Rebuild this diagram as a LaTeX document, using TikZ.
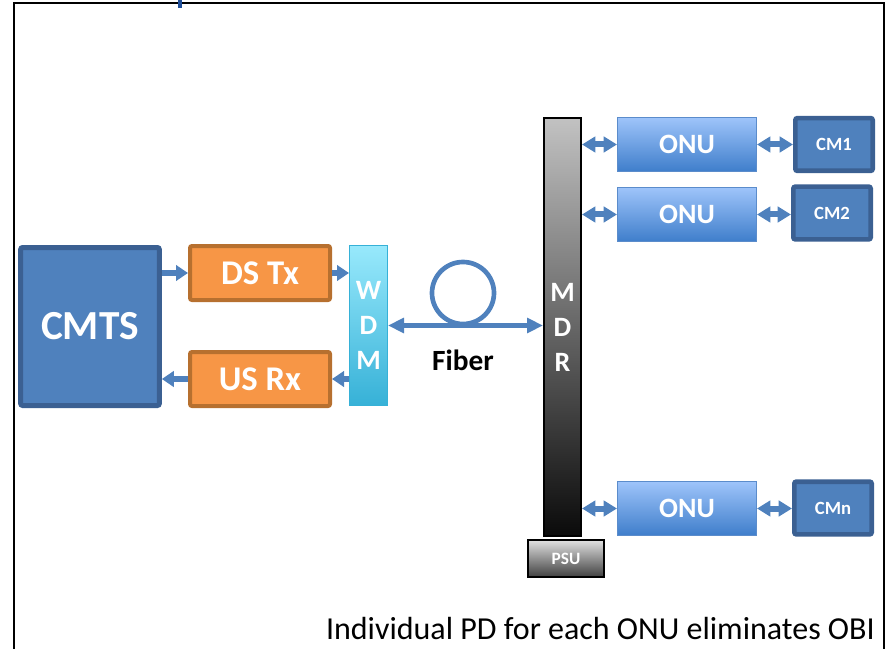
\documentclass[tikz,border=0pt]{standalone}
\usepackage{fontspec}
\setmainfont{Carlito}
\usepackage{xcolor}
\usetikzlibrary{arrows.meta}
\definecolor{cmblue}{HTML}{4F81BD}
\definecolor{cmedge}{HTML}{3B6092}
\definecolor{txorange}{HTML}{F79646}
\definecolor{txedge}{HTML}{B7702F}
\definecolor{wdmtop}{HTML}{98E9FC}
\definecolor{wdmbot}{HTML}{36B1D7}
\definecolor{onutop}{HTML}{9EC4FA}
\definecolor{onubot}{HTML}{3F7ECB}
\definecolor{onuedge}{HTML}{5B8CCB}
\definecolor{titleblue}{HTML}{1F4E99}

\begin{document}
\begin{tikzpicture}[x=0.75pt,y=-0.75pt,
    cmbox/.style={draw=cmedge,fill=cmblue,rounded corners=1.5pt,text=white,font=\bfseries},
    txbox/.style={draw=txedge,fill=txorange,line width=3pt,rounded corners=1.5pt,text=white,
      minimum width=105pt,minimum height=40.5pt,font=\fontsize{26}{30}\bfseries\selectfont},
    onubox/.style={draw=onuedge,line width=1pt,top color=onutop,bottom color=onubot,text=white,
      minimum width=104pt,minimum height=40.5pt,font=\fontsize{21}{25}\bfseries\selectfont},
    cmsmall/.style={cmbox,line width=3.5pt,minimum width=58pt,minimum height=39.5pt,
      font=\fontsize{14}{16}\bfseries\selectfont},
    link/.style={draw=cmblue,line width=4.5pt,-{Triangle[width=11.5pt,length=9pt]}},
    dlink/.style={draw=cmblue,line width=4.5pt,{Triangle[width=11.5pt,length=10pt]}-{Triangle[width=11.5pt,length=10pt]}}]
    \useasboundingbox (0,0) rectangle (889,649);

    % marco
    \draw[line width=1.2pt] (14,649) -- (14,3) -- (884,3) -- (884,649);
    \fill[titleblue] (178,0) rectangle (182,8);

    % cabecera
    \node[cmbox,line width=3.75pt,minimum width=104pt,minimum height=118.5pt,
      font=\fontsize{31}{36}\bfseries\selectfont] (cmts) at (90,326.5) {CMTS};
    \node[txbox] (dstx) at (260,273) {DS Tx};
    \node[txbox] (usrx) at (260,379) {US Rx};
    \node[draw=wdmbot,line width=0.75pt,top color=wdmtop,bottom color=wdmbot,text=white,
      minimum width=28.5pt,minimum height=120pt,align=center,
      font=\fontsize{21}{26.25}\bfseries\selectfont] (wdm) at (368.5,325.5) {W\\D\\M};

    % fibra
    \node[circle,draw=cmblue,line width=3.5pt,minimum size=46.5pt,inner sep=0pt] (loop) at (463,293) {};
    \node[font=\fontsize{22}{26}\bfseries\selectfont] (fiberlbl) at (463,360) {Fiber};

    % MDR y PSU
    \node[draw=black,line width=1.5pt,top color=black!24,bottom color=black!96,text=white,
      minimum width=27.75pt,minimum height=313.5pt,align=center,
      font=\fontsize{21}{26.25}\bfseries\selectfont] (mdr) at (562.5,327) {M\\D\\R};
    \node[draw=black,line width=1.5pt,top color=black!12,bottom color=black!75,text=white,
      minimum width=57pt,minimum height=27.75pt,
      font=\fontsize{13}{15}\bfseries\selectfont] (psu) at (566,558.5) {PSU};

    % ONU y CM
    \node[onubox] (onua) at (687,144.5) {ONU};
    \node[onubox] (onub) at (687,214.5) {ONU};
    \node[onubox] (onun) at (687,508.5) {ONU};
    \node[cmsmall] (cma) at (834,144.5) {CM1};
    \node[cmsmall] (cmb) at (832,213) {CM2};
    \node[cmsmall] (cmn) at (833,508) {CMn};

    % flechas
    \draw[link] (cmts.east |- dstx.west) -- (dstx.west);
    \draw[link] (dstx.east) -- (dstx.east -| wdm.west);
    \draw[link] (usrx.east -| wdm.west) -- (usrx.east);
    \draw[link] (usrx.west) -- (usrx.west -| cmts.east);
    \draw[draw=cmblue,line width=3.5pt,{Triangle[width=11pt,length=12pt]}-{Triangle[width=11pt,length=12pt]}]
      (wdm.east) -- (wdm.east -| mdr.west);
    \draw[dlink] (onua.west -| mdr.east) -- (onua.west);
    \draw[dlink] (onub.west -| mdr.east) -- (onub.west);
    \draw[dlink] (onun.west -| mdr.east) -- (onun.west);
    \draw[dlink] (onua.east) -- (onua.east -| cma.west);
    \draw[dlink] (onub.east) -- (onub.east -| cmb.west);
    \draw[dlink] (onun.east) -- (onun.east -| cmn.west);

    \node[anchor=base east,inner sep=0pt,font=\fontsize{24}{28}\selectfont] (note) at (875,639)
      {Individual PD for each ONU eliminates OBI};
\end{tikzpicture}
\end{document}
